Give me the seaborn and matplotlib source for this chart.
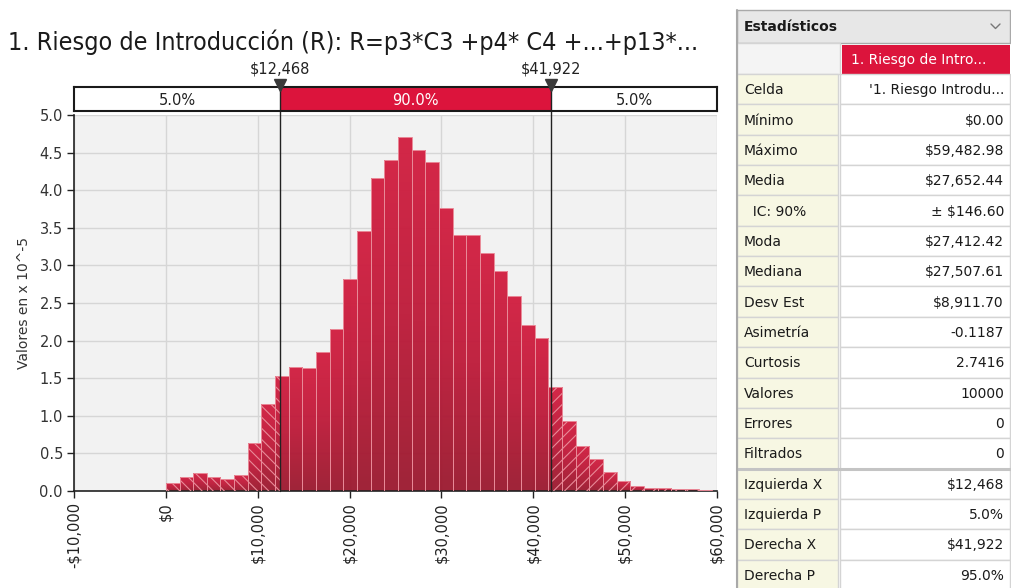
import numpy as np
import pandas as pd
import matplotlib
matplotlib.use("Agg")
import matplotlib.pyplot as plt
import seaborn as sns
from matplotlib.colors import LinearSegmentedColormap
from matplotlib.patches import Rectangle

# ---------------- data ----------------
TITLE = "1. Riesgo de Introducción (R): R=p3*C3 +p4* C4 +...+p13*..."
Y_LABEL = "Valores en x 10^-5"
# histogram heights (density, x 10^-5), 40 equal bins from Mínimo to Máximo
HEIGHTS = [0.10, 0.19, 0.235, 0.19, 0.165, 0.21, 0.64, 1.16, 1.53, 1.65,
           1.63, 1.85, 2.16, 2.82, 3.46, 4.16, 4.40, 4.71, 4.53, 4.38,
           3.76, 3.40, 3.40, 3.16, 2.93, 2.59, 2.21, 2.04, 1.38, 0.93,
           0.60, 0.42, 0.25, 0.13, 0.07, 0.045, 0.035, 0.02, 0.02, 0.015]
MINIMO = 0.0
MAXIMO = 59482.98
P_LEFT = 12468
P_RIGHT = 41922
P_LEFT_LABEL = "$12,468"
P_RIGHT_LABEL = "$41,922"
BAND_LABELS = ["5.0%", "90.0%", "5.0%"]
X_TICKS = [-10000, 0, 10000, 20000, 30000, 40000, 50000, 60000]
X_TICK_LABELS = ["-$10,000", "$0", "$10,000", "$20,000", "$30,000",
                 "$40,000", "$50,000", "$60,000"]
Y_TICKS = [0.0, 0.5, 1.0, 1.5, 2.0, 2.5, 3.0, 3.5, 4.0, 4.5, 5.0]
Y_TICK_LABELS = ["0.0", "0.5", "1.0", "1.5", "2.0", "2.5", "3.0", "3.5",
                 "4.0", "4.5", "5.0"]
X_RANGE = (-10000, 60000)
Y_RANGE = (0, 5.0)

TABLE_TITLE = "Estadísticos"
SERIES_NAME = "1. Riesgo de Intro..."
STAT_LABELS = ["Celda", "Mínimo", "Máximo", "Media", "  IC: 90%", "Moda",
               "Mediana", "Desv Est", "Asimetría", "Curtosis", "Valores",
               "Errores", "Filtrados", "Izquierda X", "Izquierda P",
               "Derecha X", "Derecha P"]
STAT_VALUES = ["'1. Riesgo Introdu...", "$0.00", "$59,482.98", "$27,652.44",
               "± $146.60", "$27,412.42", "$27,507.61", "$8,911.70",
               "-0.1187", "2.7416", "10000", "0", "0", "$12,468", "5.0%",
               "$41,922", "95.0%"]

# ---------------- style ----------------
sns.set_theme(style="white")
plt.rcParams["font.family"] = ["DejaVu Sans"]
plt.rcParams["hatch.linewidth"] = 0.8

RED = "#DC143C"
W, H = 1012, 588
fig = plt.figure(figsize=(W / 100, H / 100), dpi=100)
fig.patch.set_facecolor("white")


def rect(l, t, r, b):
    return [l / W, 1 - b / H, (r - l) / W, (b - t) / H]


# ---------------- histogram ----------------
ax = fig.add_axes(rect(74, 115, 717, 491))
ax.set_facecolor("#F2F2F2")

n = len(HEIGHTS)
bw = (MAXIMO - MINIMO) / n
edges = MINIMO + np.arange(n + 1) * bw
fine = np.unique(np.concatenate([edges, [P_LEFT, P_RIGHT]]))
centers = (fine[:-1] + fine[1:]) / 2
parent = np.clip(np.searchsorted(edges, centers) - 1, 0, n - 1)
df = pd.DataFrame({"valor": centers, "densidad": np.asarray(HEIGHTS)[parent]})

sns.histplot(data=df, x="valor", weights="densidad", bins=list(fine),
             stat="count", ax=ax, color=RED, edgecolor="#E98A98",
             linewidth=0.7, alpha=1)

cmap = LinearSegmentedColormap.from_list("bar", ["#9C1A30", "#BE1B3A", "#D21F40"])
grad = np.linspace(0, 1, 64).reshape(-1, 1)
for p in list(ax.patches):
    x0, wdt, h = p.get_x(), p.get_width(), p.get_height()
    p.set_facecolor("none")
    p.set_zorder(3)
    xm = x0 + wdt / 2
    if xm < P_LEFT:
        p.set_hatch("\\\\\\")
    elif xm > P_RIGHT:
        p.set_hatch("///")
    im = ax.imshow(grad, cmap=cmap, extent=[x0, x0 + wdt, 0, h], origin="lower",
                   aspect="auto", zorder=2, interpolation="bilinear", alpha=0.96)
    im.set_clip_path(p)

ax.set_xlim(*X_RANGE)
ax.set_ylim(*Y_RANGE)
ax.set_xticks(X_TICKS)
ax.set_xticklabels(X_TICK_LABELS, rotation=90, va="top", ha="center",
                   fontsize=10.5, color="#222222")
ax.set_yticks(Y_TICKS)
ax.set_yticklabels(Y_TICK_LABELS, fontsize=10.5, color="#333333")
ax.tick_params(axis="both", direction="out", length=5, width=1,
               color="#222222", bottom=True, left=True, pad=3)
ax.grid(True, color="#D6D6D6", lw=1)
ax.set_axisbelow(True)
for s in ["top", "right"]:
    ax.spines[s].set_visible(False)
for s in ["left", "bottom"]:
    ax.spines[s].set_color("#222222")
    ax.spines[s].set_linewidth(1.2)
ax.set_xlabel("")
ax.set_ylabel(Y_LABEL, fontsize=10, color="#333333", labelpad=6)

for px in (P_LEFT, P_RIGHT):
    ax.plot([px, px], [0, Y_RANGE[1] * 1.012], color="#222222", lw=1,
            zorder=5, clip_on=False)

# ---------------- percentile band ----------------
axb = fig.add_axes(rect(74, 87, 717, 111))
axb.set_xlim(*X_RANGE)
axb.set_ylim(0, 1)
axb.set_xticks([])
axb.set_yticks([])
axb.set_facecolor("white")
axb.axvspan(P_LEFT, P_RIGHT, color=RED, lw=0)
for px in (P_LEFT, P_RIGHT):
    axb.axvline(px, color="#222222", lw=1)
for s in axb.spines.values():
    s.set_visible(True)
    s.set_color("#1a1a1a")
    s.set_linewidth(1.5)
band_centers = [(X_RANGE[0] + P_LEFT) / 2, (P_LEFT + P_RIGHT) / 2,
                (P_RIGHT + X_RANGE[1]) / 2]
for xc, lab, col in zip(band_centers, BAND_LABELS, ["#222222", "white", "#222222"]):
    axb.text(xc, 0.45, lab, ha="center", va="center", fontsize=10.5, color=col)
axb.plot([P_LEFT, P_RIGHT], [1.08, 1.08], ls="none", marker="v", ms=9,
         color="#3a3a3a", clip_on=False, zorder=6)
for px, lab in ((P_LEFT, P_LEFT_LABEL), (P_RIGHT, P_RIGHT_LABEL)):
    axb.text(px, 1.45, lab, ha="center", va="bottom", fontsize=10.5,
             color="#222222", clip_on=False)

# ---------------- title ----------------
title = fig.text(8 / W, 1 - 42 / H, TITLE, ha="left", va="center", fontsize=18,
                 color="#1a1a1a", family=["DejaVu Sans"], fontstretch="condensed")
renderer = fig.canvas.get_renderer()
tw = title.get_window_extent(renderer).width
target = 710.0
if tw > target:
    title.set_fontsize(18 * target / tw)

# ---------------- statistics table ----------------
axt = fig.add_axes([0, 0, 1, 1], zorder=-1)
axt.set_xlim(0, W)
axt.set_ylim(H, 0)
axt.axis("off")

TL, TM, TR = 737, 840, 1010
GRID = "#D4D4D4"
TXT = "#1a1a1a"
# header
axt.add_patch(Rectangle((TL, 10), TR - TL, 33, fc="#E7E7E7", ec="#A9A9A9", lw=1))
axt.text(744, 27, TABLE_TITLE, fontsize=10, fontweight="bold", va="center",
         ha="left", color=TXT)
axt.plot([991, 995.5, 1000], [24, 28.5, 24], color="#777777", lw=1)
# series header row
axt.add_patch(Rectangle((TL, 43), TM - TL, 31, fc="#F4F4F4", ec=GRID, lw=1))
axt.add_patch(Rectangle((TM + 2, 45), TR - TM - 2, 29, fc=RED, ec="none"))
axt.text(851, 60, SERIES_NAME, fontsize=10, va="center", ha="left", color="white")
# rows
y0, rh = 74, 30.35
for k, (lab, val) in enumerate(zip(STAT_LABELS, STAT_VALUES)):
    yt = y0 + k * rh
    axt.add_patch(Rectangle((TL, yt), TM - TL - 2, rh, fc="#F7F7E3", ec=GRID, lw=1))
    axt.add_patch(Rectangle((TM, yt), TR - TM, rh, fc="white", ec=GRID, lw=1))
    axt.text(744, yt + rh / 2 + 1, lab, fontsize=10, va="center", ha="left", color=TXT)
    axt.text(1004, yt + rh / 2 + 1, val, fontsize=10, va="center", ha="right", color=TXT)
ysep = y0 + 13 * rh
axt.plot([TL, TR], [ysep, ysep], color="#C4C4C4", lw=2.2)
axt.plot([TL, TL], [10, H], color="#A9A9A9", lw=1.5)

fig.savefig("out.png", dpi=100, facecolor="white")
